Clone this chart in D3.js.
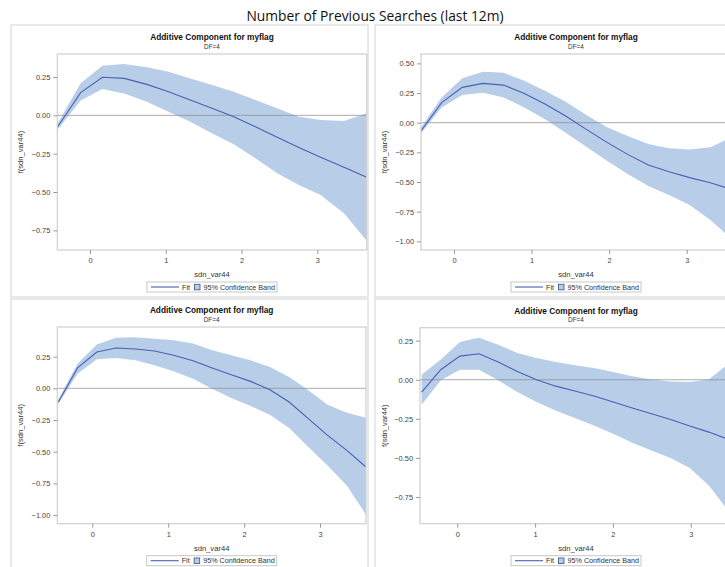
<!DOCTYPE html>
<html>
<head>
<meta charset="utf-8">
<script src="https://cdn.jsdelivr.net/npm/d3@7"></script>
<style>
  html, body { margin: 0; padding: 0; background: #ffffff; }
  svg { display: block; }
</style>
</head>
<body>
<svg id="chart" width="725" height="567"></svg>
<script>
// ---- Chart text ----
const mainTitle = "Number of Previous Searches (last 12m)";
const panelTitle = "Additive Component for myflag";
const panelSubtitle = "DF=4";
const xLabel = "sdn_var44";
const yLabel = "f(sdn_var44)";
const legendFit = "Fit";
const legendBand = "95% Confidence Band";

// ---- Tick values ----
const xTicks = [0, 1, 2, 3];
const yTicks1 = [-0.75, -0.5, -0.25, 0, 0.25];
const yTicks2 = [-1, -0.75, -0.5, -0.25, 0, 0.25, 0.5];
const yTicks3 = [-1, -0.75, -0.5, -0.25, 0, 0.25];
const yTicks4 = [-0.75, -0.5, -0.25, 0, 0.25];

// ---- Panel 1 (top left) ----
const p1X     = [-0.432, -0.124, 0.163, 0.450, 0.750, 1.037, 1.323, 1.610, 1.897, 2.183, 2.470, 2.757, 3.044, 3.352, 3.652];
const p1Fit   = [-0.078, 0.148, 0.248, 0.241, 0.202, 0.154, 0.100, 0.046, -0.009, -0.074, -0.143, -0.209, -0.274, -0.339, -0.404];
const p1Upper = [-0.057, 0.209, 0.324, 0.335, 0.313, 0.285, 0.241, 0.198, 0.154, 0.100, 0.046, -0.009, -0.030, -0.037, 0.013];
const p1Lower = [-0.096, 0.096, 0.172, 0.143, 0.089, 0.024, -0.041, -0.117, -0.189, -0.280, -0.378, -0.454, -0.520, -0.639, -0.817];

// ---- Panel 2 (top right) ----
const p2X     = [-0.425, -0.159, 0.107, 0.374, 0.640, 0.907, 1.173, 1.440, 1.706, 1.972, 2.239, 2.505, 2.772, 3.038, 3.305, 3.571];
const p2Fit   = [-0.070, 0.169, 0.298, 0.331, 0.317, 0.247, 0.157, 0.056, -0.056, -0.166, -0.267, -0.357, -0.413, -0.463, -0.506, -0.562];
const p2Upper = [-0.039, 0.213, 0.374, 0.430, 0.421, 0.354, 0.270, 0.177, 0.065, -0.039, -0.112, -0.180, -0.216, -0.225, -0.208, -0.124];
const p2Lower = [-0.090, 0.129, 0.233, 0.253, 0.213, 0.129, 0.028, -0.084, -0.202, -0.320, -0.433, -0.534, -0.610, -0.694, -0.820, -0.975];

// ---- Panel 3 (bottom left) ----
const p3X     = [-0.448, -0.195, 0.059, 0.312, 0.566, 0.819, 1.072, 1.326, 1.579, 1.831, 2.086, 2.340, 2.593, 2.846, 3.100, 3.353, 3.606];
const p3Fit   = [-0.108, 0.161, 0.287, 0.318, 0.311, 0.295, 0.261, 0.218, 0.161, 0.108, 0.055, -0.011, -0.108, -0.239, -0.371, -0.489, -0.621];
const p3Upper = [-0.087, 0.195, 0.345, 0.400, 0.403, 0.392, 0.379, 0.353, 0.300, 0.261, 0.221, 0.168, 0.089, -0.016, -0.129, -0.192, -0.232];
const p3Lower = [-0.121, 0.116, 0.229, 0.239, 0.221, 0.182, 0.134, 0.076, -0.003, -0.076, -0.139, -0.208, -0.313, -0.463, -0.608, -0.766, -0.997];

// ---- Panel 4 (bottom right) ----
const p4X     = [-0.458, -0.212, 0.034, 0.280, 0.526, 0.772, 1.018, 1.264, 1.510, 1.756, 2.003, 2.249, 2.495, 2.741, 2.987, 3.233, 3.530];
const p4Fit   = [-0.079, 0.064, 0.151, 0.166, 0.113, 0.053, 0.000, -0.041, -0.072, -0.104, -0.143, -0.181, -0.217, -0.254, -0.296, -0.335, -0.390];
const p4Upper = [0.032, 0.130, 0.241, 0.269, 0.224, 0.171, 0.139, 0.113, 0.092, 0.075, 0.049, 0.023, 0.002, -0.011, -0.015, 0.002, 0.120];
const p4Lower = [-0.160, -0.004, 0.064, 0.064, -0.004, -0.079, -0.143, -0.196, -0.245, -0.292, -0.345, -0.403, -0.452, -0.501, -0.565, -0.676, -0.870];

// ---- Styling ----
const FONT = "'Liberation Sans', Arial, sans-serif";
const BAND = "#b8cde7";
const FIT = "#4862b4";
const FRAME = "#cfcfcf";
const CELL = "#e2e2e2";
const TEXT = "#333333";
const TICK_TEXT = "#444444";

// Panel geometry: outer cell and inner plot area, plus value ranges for each axis
const panels = [
  { x: p1X, fit: p1Fit, upper: p1Upper, lower: p1Lower, yTicks: yTicks1,
    cell: [11, 25, 368, 297], plot: { l: 57.3, r: 366.7, t: 54, b: 250 },
    xDomain: [-0.432, 3.652], yDomain: [-0.878, 0.400] },
  { x: p2X, fit: p2Fit, upper: p2Upper, lower: p2Lower, yTicks: yTicks2,
    cell: [375, 25, 790, 297], plot: { l: 421, r: 731, t: 54, b: 250 },
    xDomain: [-0.425, 3.571], yDomain: [-1.073, 0.579] },
  { x: p3X, fit: p3Fit, upper: p3Upper, lower: p3Lower, yTicks: yTicks3,
    cell: [11, 299, 368, 620], plot: { l: 57.3, r: 366, t: 327, b: 523.7 },
    xDomain: [-0.462, 3.606], yDomain: [-1.068, 0.484] },
  { x: p4X, fit: p4Fit, upper: p4Upper, lower: p4Lower, yTicks: yTicks4,
    cell: [375, 299, 790, 620], plot: { l: 420, r: 732, t: 327.7, b: 523.7 },
    xDomain: [-0.479, 3.53], yDomain: [-0.921, 0.333] }
];

const svg = d3.select("#chart");

// Page title
svg.append("text")
  .attr("x", 375).attr("y", 21)
  .attr("text-anchor", "middle")
  .attr("font-family", "'Open Sans', 'Noto Sans', sans-serif")
  .attr("font-size", 13.8)
  .attr("fill", "#111")
  .text(mainTitle);

const fmt = d3.format(".2f");

panels.forEach((p, i) => {
  const g = svg.append("g");
  const { l, r, t, b } = p.plot;

  // Cell border
  g.append("rect")
    .attr("x", p.cell[0]).attr("y", p.cell[1])
    .attr("width", p.cell[2] - p.cell[0]).attr("height", p.cell[3] - p.cell[1])
    .attr("fill", "none").attr("stroke", CELL).attr("stroke-width", 1.5);

  const x = d3.scaleLinear().domain(p.xDomain).range([l, r]);
  const y = d3.scaleLinear().domain(p.yDomain).range([b, t]);

  const clipId = "clip" + i;
  g.append("clipPath").attr("id", clipId)
    .append("rect").attr("x", l).attr("y", t).attr("width", r - l).attr("height", b - t);

  const rows = p.x.map((xv, k) => ({ x: xv, fit: p.fit[k], up: p.upper[k], lo: p.lower[k] }));

  const inner = g.append("g").attr("clip-path", `url(#${clipId})`);

  // Confidence band
  inner.append("path")
    .datum(rows)
    .attr("fill", BAND)
    .attr("d", d3.area().x(d => x(d.x)).y0(d => y(d.lo)).y1(d => y(d.up)));

  // Zero reference line
  inner.append("line")
    .attr("x1", l).attr("x2", r)
    .attr("y1", y(0)).attr("y2", y(0))
    .attr("stroke", "#8f8f8f").attr("stroke-opacity", 0.75).attr("stroke-width", 1);

  // Fit line
  inner.append("path")
    .datum(rows)
    .attr("fill", "none").attr("stroke", FIT).attr("stroke-width", 1.1)
    .attr("d", d3.line().x(d => x(d.x)).y(d => y(d.fit)));

  // Plot frame
  g.append("rect")
    .attr("x", l).attr("y", t).attr("width", r - l).attr("height", b - t)
    .attr("fill", "none").attr("stroke", FRAME).attr("stroke-width", 1.2);

  // Y axis
  const yAxis = d3.axisLeft(y).tickValues(p.yTicks).tickFormat(fmt).tickSize(4).tickPadding(3);
  const ya = g.append("g").attr("transform", `translate(${l},0)`).call(yAxis);
  ya.select(".domain").remove();
  ya.selectAll(".tick line").attr("stroke", "#9a9a9a");
  ya.selectAll(".tick text").attr("font-family", FONT).attr("font-size", 7.4).attr("fill", TICK_TEXT);

  // X axis
  const xAxis = d3.axisBottom(x).tickValues(xTicks).tickFormat(d3.format("d")).tickSize(4).tickPadding(4);
  const xa = g.append("g").attr("transform", `translate(0,${b})`).call(xAxis);
  xa.select(".domain").remove();
  xa.selectAll(".tick line").attr("stroke", "#9a9a9a");
  xa.selectAll(".tick text").attr("font-family", FONT).attr("font-size", 7.4).attr("fill", TICK_TEXT);

  const cx = (l + r) / 2;

  // Panel title and subtitle
  g.append("text")
    .attr("x", cx).attr("y", t - 14)
    .attr("text-anchor", "middle")
    .attr("font-family", FONT).attr("font-size", 8.3).attr("font-weight", "bold").attr("fill", "#111")
    .text(panelTitle);
  g.append("text")
    .attr("x", cx).attr("y", t - 5.5)
    .attr("text-anchor", "middle")
    .attr("font-family", FONT).attr("font-size", 6.4).attr("fill", TEXT)
    .text(panelSubtitle);

  // Axis labels
  g.append("text")
    .attr("x", cx).attr("y", b + 27)
    .attr("text-anchor", "middle")
    .attr("font-family", FONT).attr("font-size", 7.6).attr("fill", TEXT)
    .text(xLabel);
  g.append("text")
    .attr("transform", `translate(${p.cell[0] + 12},${(t + b) / 2}) rotate(-90)`)
    .attr("text-anchor", "middle")
    .attr("font-family", FONT).attr("font-size", 7.6).attr("fill", TEXT)
    .text(yLabel);

  // Legend
  const lw = 130, lh = 10;
  const lx = cx - lw / 2, ly = b + 32;
  const lg = g.append("g");
  lg.append("rect")
    .attr("x", lx).attr("y", ly).attr("width", lw).attr("height", lh)
    .attr("fill", "#fff").attr("stroke", "#c8c8c8").attr("stroke-width", 1);
  lg.append("line")
    .attr("x1", lx + 4).attr("x2", lx + 32)
    .attr("y1", ly + lh / 2).attr("y2", ly + lh / 2)
    .attr("stroke", FIT).attr("stroke-width", 1.1);
  lg.append("text")
    .attr("x", lx + 35).attr("y", ly + lh / 2 + 2.6)
    .attr("font-family", FONT).attr("font-size", 7.2).attr("fill", TEXT)
    .text(legendFit);
  lg.append("rect")
    .attr("x", lx + 47.5).attr("y", ly + 2.3).attr("width", 5.5).attr("height", 5.5)
    .attr("fill", BAND).attr("stroke", "#47628f").attr("stroke-width", 0.9);
  lg.append("text")
    .attr("x", lx + 56.5).attr("y", ly + lh / 2 + 2.6)
    .attr("font-family", FONT).attr("font-size", 7.2).attr("fill", TEXT)
    .text(legendBand);
});
</script>
</body>
</html>
